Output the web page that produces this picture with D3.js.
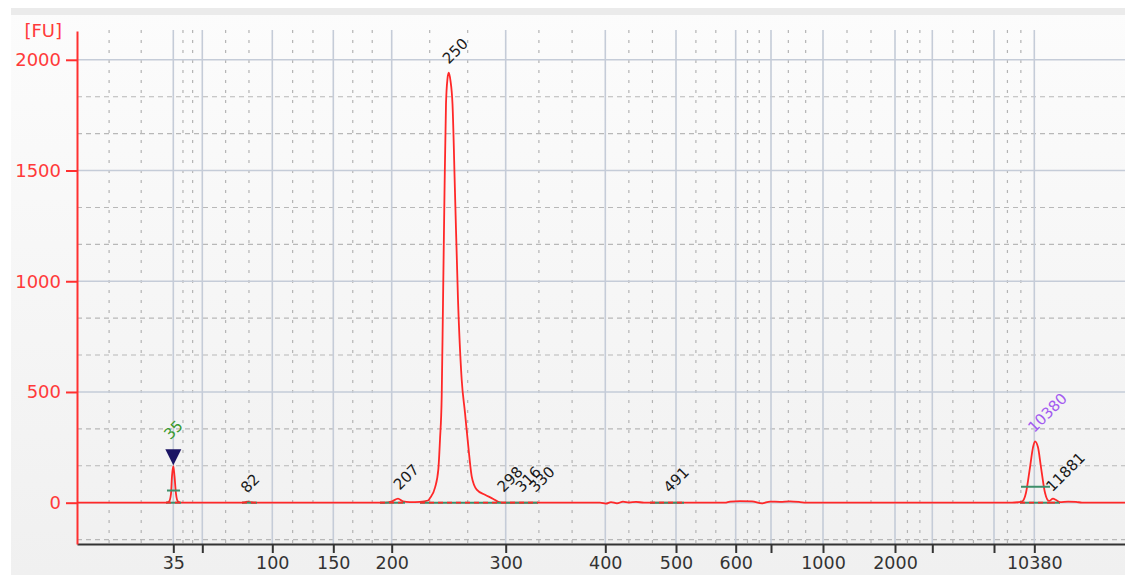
<!DOCTYPE html>
<html>
<head>
<meta charset="utf-8">
<script src="https://cdn.jsdelivr.net/npm/d3@7"></script>
<style>
  html, body { margin: 0; padding: 0; background: #ffffff; }
  svg { display: block; }
  text { font-family: "DejaVu Sans", Verdana, sans-serif; }
</style>
</head>
<body>
<svg id="chart" width="1125" height="575"></svg>
<script>
// Ladder calibration: fragment size (bp) and migration time (s)
const ladderSizes = [35, 50, 100, 150, 200, 300, 400, 500, 600, 700, 1000, 2000, 3000, 7000, 10380];
const ladderTimes = [39.63, 42.53, 49.53, 55.63, 61.47, 72.87, 82.83, 89.9, 95.87, 99.4, 104.6, 111.8, 115.53, 121.7, 125.73];
const xTickLabels = [35, 100, 150, 200, 300, 400, 500, 600, 1000, 2000, 10380];
const yTickValues = [0, 500, 1000, 1500, 2000];

// Fluorescence trace: migration time (s) and signal (FU)
const traceTime = [30, 38.3, 38.9, 39.2, 39.4, 39.5, 39.63, 39.75, 39.9, 40.1, 40.4,
  46.3, 46.7, 47.0, 47.3, 47.7,
  60.8, 61.5, 62.1, 62.6, 63.3,
  64.3, 65.1, 65.3, 65.8, 66.13, 66.3, 66.47, 66.6, 66.75, 66.9, 67.05, 67.17, 67.35, 67.55, 67.8, 68.1, 68.47, 68.8, 69.13, 69.47, 69.97, 70.8, 71.63, 72.13, 72.8,
  82.3, 82.9, 83.4, 84.0, 84.6, 85.2, 85.9, 86.7,
  94.8, 95.3, 96.3, 97.5, 98.5, 99.3, 100.3, 101.3, 102.3, 102.9,
  123.5, 124.1, 124.5, 124.9, 125.3, 125.6, 125.8, 126.1, 126.4, 126.8, 127.2, 127.6, 127.9, 128.3, 129.1, 129.9, 130.5, 134.8];
const traceFU = [0, 0, 0, 5, 40, 120, 165, 120, 40, 5, 0,
  0, 1, 5, 2, 0,
  0, 6, 18, 6, 3,
  4, 10, 21, 68, 149, 285, 480, 900, 1400, 1800, 1915, 1942, 1905, 1800, 1400, 917, 555, 406, 254, 119, 59, 36, 17, 4, 0,
  0, -4, 3, -3, 5, 1, 4, 0,
  0, 5, 7, 6, -3, 5, 4, 6, 3, 0,
  0, 2, 5, 45, 160, 250, 277, 250, 160, 45, 8, 18, 12, 3, 5, 4, 0, 0];

// Called peaks: size (bp), height (FU), role
const peakSizes = [35, 82, 207, 250, 298, 316, 330, 491, 10380, 11881];
const peakHeights = [165, 4, 18, 1942, 8, 8, 8, 5, 277, 10];
const peakRoles = ["lower", "", "", "", "", "", "", "", "upper", ""];

// Integration regions on the baseline (s)
const regionStart = [38.9, 46.5, 60.3, 64.3, 87.3, 124.3, 127.3];
const regionEnd = [40.4, 48.0, 62.8, 76.1, 90.7, 127.3, 128.3];

// Marker level bars: start (s), end (s), level (FU)
const markerBarStart = [39.0, 124.4];
const markerBarEnd = [40.3, 127.3];
const markerBarLevel = [55, 72];

const svg = d3.select("#chart");
const W = 1125, H = 575;
const plotLeft = 77, plotRight = 1125, plotTop = 31, plotBottom = 544;

// background panel
const defs = svg.append("defs");
const grad = defs.append("linearGradient").attr("id", "bg").attr("x1", 0).attr("y1", 0).attr("x2", 0).attr("y2", 1);
grad.append("stop").attr("offset", "0%").attr("stop-color", "#fcfcfc");
grad.append("stop").attr("offset", "100%").attr("stop-color", "#f0f0f0");
svg.append("rect").attr("x", 11).attr("y", 8).attr("width", W - 11).attr("height", H - 8).attr("fill", "url(#bg)");
svg.append("rect").attr("x", 11).attr("y", 8).attr("width", W - 11).attr("height", 7).attr("fill", "#ebebeb");

const x = d3.scaleLinear().domain([30, 134.8]).range([plotLeft, plotRight]);
const y = d3.scaleLinear().domain([-186.5, 2130]).range([plotBottom, plotTop]);
const sizeToTime = d3.scaleLinear().domain(ladderSizes).range(ladderTimes);

const grid = svg.append("g");

// minor vertical grid: thirds between ladder positions
const bounds = [x.domain()[0]].concat(ladderTimes);
const minorV = [];
for (let i = 0; i < bounds.length - 1; i++) {
  const a = bounds[i], b = bounds[i + 1];
  minorV.push(a + (b - a) / 3, a + 2 * (b - a) / 3);
}
grid.selectAll(".mv").data(minorV).join("line")
  .attr("x1", d => x(d)).attr("x2", d => x(d))
  .attr("y1", plotTop - 1).attr("y2", plotBottom)
  .attr("stroke", "#b4b4b4").attr("stroke-width", 1.2).attr("stroke-dasharray", "3,7");

// minor horizontal grid: thirds between major ticks
const minorH = d3.range(-1, 13).filter(k => k % 3 !== 0).map(k => k * 500 / 3)
  .filter(v => v > y.domain()[0] && v < y.domain()[1]);
grid.selectAll(".mh").data(minorH).join("line")
  .attr("x1", plotLeft).attr("x2", plotRight)
  .attr("y1", d => y(d)).attr("y2", d => y(d))
  .attr("stroke", "#b8b8b8").attr("stroke-width", 1.1).attr("stroke-dasharray", "5,4");

// major grid
grid.selectAll(".MV").data(ladderTimes).join("line")
  .attr("x1", d => x(d)).attr("x2", d => x(d))
  .attr("y1", plotTop - 1).attr("y2", plotBottom)
  .attr("stroke", "#c5ccd8").attr("stroke-width", 1.6);
grid.selectAll(".MH").data(yTickValues).join("line")
  .attr("x1", plotLeft).attr("x2", plotRight)
  .attr("y1", d => y(d)).attr("y2", d => y(d))
  .attr("stroke", "#c5ccd8").attr("stroke-width", 1.6);

// x axis (ladder sizes)
const xAxis = d3.axisBottom(x)
  .tickValues(ladderTimes)
  .tickFormat((t, i) => xTickLabels.includes(ladderSizes[i]) ? String(ladderSizes[i]) : "")
  .tickSize(9).tickSizeOuter(0).tickPadding(4);
const gx = svg.append("g").attr("transform", `translate(0,${plotBottom})`).call(xAxis);
gx.select(".domain").attr("stroke", "#333").attr("stroke-width", 2);
gx.selectAll(".tick line").attr("stroke", "#333").attr("stroke-width", 2);
gx.selectAll(".tick text").attr("fill", "#333").style("font-size", "17.5px")
  .style("font-family", "'DejaVu Sans', Verdana, sans-serif");

// y axis (FU)
const yAxis = d3.axisLeft(y).tickValues(yTickValues).tickFormat(d3.format("d"))
  .tickSize(11).tickSizeOuter(0).tickPadding(5);
const gy = svg.append("g").attr("transform", `translate(${plotLeft},0)`).call(yAxis);
gy.select(".domain").attr("stroke", "#ff3030").attr("stroke-width", 2);
gy.selectAll(".tick line").attr("stroke", "#ff3030").attr("stroke-width", 2);
gy.selectAll(".tick text").attr("fill", "#ff3a3a").style("font-size", "18px")
  .style("font-family", "'DejaVu Sans', Verdana, sans-serif");

svg.append("text").attr("x", 62).attr("y", 37).attr("text-anchor", "end")
  .attr("fill", "#ff3a3a").style("font-size", "18px").text("[FU]");

// trace
const pts = traceTime.map((t, i) => [t, traceFU[i]]);
const line = d3.line().x(d => x(d[0])).y(d => y(d[1])).curve(d3.curveMonotoneX);
svg.append("path").datum(pts).attr("d", line)
  .attr("fill", "none").attr("stroke", "#ff2828").attr("stroke-width", 1.8)
  .attr("stroke-linejoin", "round");

// integration regions: green baseline with red dashes over it
const regions = regionStart.map((s, i) => [s, regionEnd[i]]);
svg.selectAll(".rg").data(regions).join("line")
  .attr("x1", d => x(d[0])).attr("x2", d => x(d[1]))
  .attr("y1", y(0)).attr("y2", y(0))
  .attr("stroke", "#3d8f6a").attr("stroke-width", 2);
svg.selectAll(".rr").data(regions).join("line")
  .attr("x1", d => x(d[0])).attr("x2", d => x(d[1]))
  .attr("y1", y(0)).attr("y2", y(0))
  .attr("stroke", "#ff2828").attr("stroke-width", 1.8).attr("stroke-dasharray", "5,4");

// marker level bars
const bars = markerBarStart.map((s, i) => [s, markerBarEnd[i], markerBarLevel[i]]);
svg.selectAll(".mb").data(bars).join("line")
  .attr("x1", d => x(d[0])).attr("x2", d => x(d[1]))
  .attr("y1", d => y(d[2])).attr("y2", d => y(d[2]))
  .attr("stroke", "#3d8f6a").attr("stroke-width", 2);

// lower marker triangle
const peaks = peakSizes.map((s, i) => ({ size: s, t: sizeToTime(s), h: peakHeights[i], role: peakRoles[i] }));
peaks.filter(p => p.role === "lower").forEach(p => {
  const px = x(p.t), py = y(p.h) - 1;
  svg.append("path")
    .attr("d", `M${px - 8},${py - 16}L${px + 8},${py - 16}L${px},${py}Z`)
    .attr("fill", "#1b1464");
});

// peak labels
svg.selectAll(".pl").data(peaks).join("text")
  .attr("transform", p => {
    const px = x(p.t) + (p.role === "lower" ? -3 : 0);
    const py = p.role === "lower" ? y(p.h) - 26 : y(p.h) - 8;
    return `translate(${px},${py}) rotate(-45)`;
  })
  .attr("fill", p => p.role === "lower" ? "#3a9a2e" : p.role === "upper" ? "#a35bf0" : "#1a1a1a")
  .style("font-size", "15px")
  .text(p => p.size);
</script>
</body>
</html>
